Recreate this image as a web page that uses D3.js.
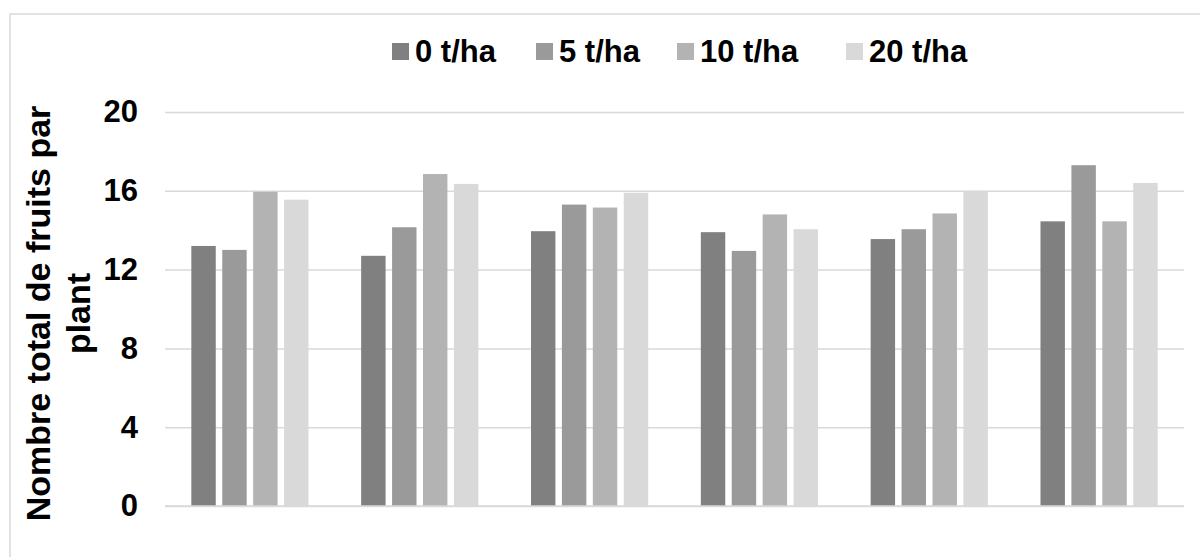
<!DOCTYPE html>
<html>
<head>
<meta charset="utf-8">
<script src="https://cdn.jsdelivr.net/npm/d3@7"></script>
<style>
  html, body { margin: 0; padding: 0; background: #fff; }
  svg { display: block; font-family: "Liberation Sans", Arial, sans-serif; font-weight: bold; }
</style>
</head>
<body>
<svg id="chart" width="1200" height="557"></svg>
<script>
// Six sites/treatments along the x axis (unlabelled in the figure)
const groups = ["G1", "G2", "G3", "G4", "G5", "G6"];
// Manure doses
const series = ["0 t/ha", "5 t/ha", "10 t/ha", "20 t/ha"];
const colors = ["#808080", "#9a9a9a", "#b3b3b3", "#d9d9d9"];
// Total number of fruits per plant, one array per dose
const dose0  = [13.2, 12.7, 13.95, 13.9, 13.55, 14.45];
const dose5  = [13.0, 14.15, 15.3, 12.95, 14.05, 17.3];
const dose10 = [15.95, 16.85, 15.15, 14.8, 14.85, 14.45];
const dose20 = [15.55, 16.35, 15.9, 14.05, 16.0, 16.4];
const yTicks = [0, 4, 8, 12, 16, 20];
const yTitle = ["Nombre total de fruits par", "plant"];

const values = [dose0, dose5, dose10, dose20];

const svg = d3.select("#chart");
const plot = { left: 165, right: 1184, top: 112, bottom: 506 };

// chart frame
svg.append("rect")
  .attr("x", 10).attr("y", 14)
  .attr("width", 1200).attr("height", 600)
  .attr("fill", "none").attr("stroke", "#d9d9d9").attr("stroke-width", 1.5);

const y = d3.scaleLinear().domain([0, 20]).range([plot.bottom, plot.top]);
const x0 = d3.scaleBand().domain(groups).range([plot.left, plot.right]).padding(0);
const groupWidth = x0.bandwidth() * 0.69;
const x1 = d3.scaleBand().domain(series)
  .range([-groupWidth / 2, groupWidth / 2])
  .paddingInner(0.21).paddingOuter(0);

// horizontal gridlines and value labels
const yAxis = d3.axisLeft(y).tickValues(yTicks)
  .tickSize(-(plot.right - plot.left)).tickPadding(27).tickFormat(d3.format("d"));
const ga = svg.append("g").attr("transform", `translate(${plot.left},0)`).call(yAxis);
ga.select(".domain").remove();
ga.selectAll(".tick line").attr("stroke", "#d9d9d9").attr("stroke-width", 1.5);
ga.selectAll(".tick text")
  .attr("fill", "#000").attr("font-size", 31).attr("font-weight", "bold")
  .attr("font-family", "Liberation Sans, Arial, sans-serif");

// bars
const g = svg.append("g");
series.forEach((s, si) => {
  g.selectAll(null).data(groups).enter().append("rect")
    .attr("x", (d) => x0(d) + x0.bandwidth() / 2 + x1(s))
    .attr("width", x1.bandwidth())
    .attr("y", (d, i) => y(values[si][i]))
    .attr("height", (d, i) => y(0) - y(values[si][i]))
    .attr("fill", colors[si]);
});

// baseline
svg.append("line")
  .attr("x1", plot.left).attr("x2", plot.right)
  .attr("y1", y(0)).attr("y2", y(0))
  .attr("stroke", "#d9d9d9").attr("stroke-width", 1.5);

// y axis title
const cy = (plot.top + plot.bottom) / 2 + 4.5;
const title = svg.append("text")
  .attr("transform", `translate(50,${cy}) rotate(-90)`)
  .attr("text-anchor", "middle").attr("font-size", 34).attr("fill", "#000");
title.append("tspan").attr("x", 0).attr("dy", 0).text(yTitle[0]);
title.append("tspan").attr("x", 0).attr("dy", 40).text(yTitle[1]);

// legend
const legendX = [392, 536, 677, 846];
const lg = svg.append("g");
series.forEach((s, i) => {
  lg.append("rect").attr("x", legendX[i]).attr("y", 43)
    .attr("width", 17).attr("height", 17).attr("fill", colors[i]);
  lg.append("text").attr("x", legendX[i] + 23).attr("y", 62)
    .attr("font-size", 31).attr("fill", "#000").text(s);
});
</script>
</body>
</html>
